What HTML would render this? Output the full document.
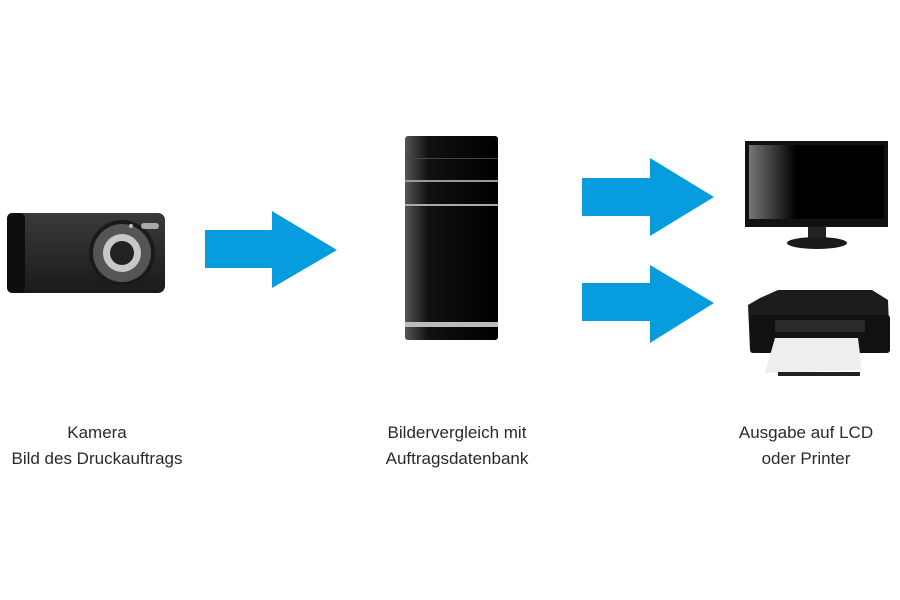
<!DOCTYPE html>
<html><head><meta charset="utf-8"><style>
body{margin:0;background:#fff;width:900px;height:600px;overflow:hidden;position:relative;font-family:"Liberation Sans",sans-serif}
.t{position:absolute;width:260px;text-align:center;font-size:17px;line-height:26px;color:#2a2a2a}
</style></head><body>
<svg width="900" height="600" style="position:absolute;left:0;top:0">
<defs>
<linearGradient id="cam" x1="0" y1="0" x2="0" y2="1"><stop offset="0" stop-color="#3a3a3a"/><stop offset="1" stop-color="#1a1a1a"/></linearGradient>
<linearGradient id="scr" x1="0" y1="0" x2="1" y2="0"><stop offset="0" stop-color="#777"/><stop offset="0.35" stop-color="#000"/><stop offset="1" stop-color="#000"/></linearGradient>
<linearGradient id="tw" x1="0" y1="0" x2="1" y2="0"><stop offset="0" stop-color="#555"/><stop offset="0.25" stop-color="#111"/><stop offset="1" stop-color="#000"/></linearGradient>
</defs>
<rect x="7" y="213" width="158" height="80" rx="7" fill="url(#cam)"/>
<rect x="7" y="213" width="18" height="80" rx="5" fill="#0e0e0e"/>
<circle cx="122" cy="253" r="33" fill="#1a1a1a"/>
<circle cx="122" cy="253" r="29" fill="#555"/>
<circle cx="122" cy="253" r="19" fill="#c8c8c8"/>
<circle cx="122" cy="253" r="12" fill="#222"/>
<rect x="141" y="223" width="18" height="6" rx="3" fill="#aaa"/>
<circle cx="131" cy="226" r="2" fill="#bbb"/>
<g fill="#069cdd">
<polygon points="205,230 272,230 272,211 337,250 272,288 272,268 205,268"/>
<polygon points="582,178 650,178 650,158 714,197 650,236 650,216 582,216"/>
<polygon points="582,283 650,283 650,265 714,303 650,343 650,321 582,321"/>
</g>
<rect x="405" y="136" width="93" height="204" rx="3" fill="url(#tw)"/>
<rect x="405" y="180" width="93" height="2" fill="#999"/>
<rect x="405" y="204" width="93" height="2" fill="#aaa"/>
<rect x="405" y="322" width="93" height="5" fill="#bbb"/>
<rect x="405" y="158" width="93" height="1" fill="#444"/>
<rect x="745" y="141" width="143" height="86" fill="#111"/>
<rect x="749" y="145" width="135" height="74" fill="url(#scr)"/>
<rect x="808" y="227" width="18" height="12" fill="#222"/>
<ellipse cx="817" cy="243" rx="30" ry="6" fill="#1a1a1a"/>
<path d="M760 298 L778 290 L872 290 L888 300 L890 350 L750 350 L748 305 Z" fill="#1c1c1c"/>
<rect x="750" y="315" width="140" height="38" rx="3" fill="#111"/>
<rect x="775" y="320" width="90" height="12" fill="#2a2a2a"/>
<polygon points="775,338 858,338 862,370 765,373" fill="#eee"/>
<rect x="778" y="372" width="82" height="4" fill="#222"/>
</svg>
<div class="t" style="left:-33px;top:420px">Kamera<br>Bild des Druckauftrags</div>
<div class="t" style="left:327px;top:420px">Bildervergleich mit<br>Auftragsdatenbank</div>
<div class="t" style="left:676px;top:420px">Ausgabe auf LCD<br>oder Printer</div>
</body></html>
